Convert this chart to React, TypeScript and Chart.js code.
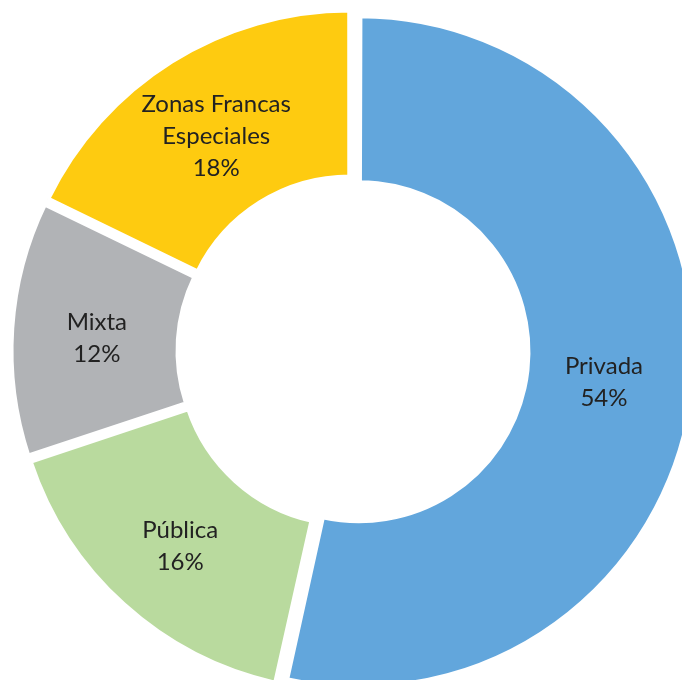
import React, { useEffect, useRef } from "react";
import { Chart, registerables } from "chart.js";

Chart.register(...registerables);

const categories = ["Privada", "Pública", "Mixta", "Zonas Francas\nEspeciales"];
const values = [53.5, 16.4, 12.3, 17.8];
const colors = ["#62A6DC", "#B9DA9E", "#B1B3B6", "#FECB10"];

// Chart.js grows the radii of exploded slices by offset/4 * (1 - sin(circ)); undo it so every slice keeps the same ring
const equalRadiusPlugin = {
  id: "equalRadius",
  afterUpdate(chart: any) {
    const meta = chart.getDatasetMeta(0);
    meta.data.forEach((arc: any) => {
      const off = (arc.options.offset || 0) / 4;
      const circ = arc.circumference;
      const ro = off * (1 - Math.sin(Math.min(Math.PI, circ || 0)));
      arc.outerRadius -= ro;
      arc.innerRadius -= ro;
    });
  },
};

const labelPlugin = {
  id: "sliceLabels",
  afterDatasetsDraw(chart: any) {
    const meta = chart.getDatasetMeta(0);
    const ctx = chart.ctx;
    const total = values.reduce((a, b) => a + b, 0);
    ctx.save();
    ctx.fillStyle = "#222222";
    ctx.font = "24px Lato";
    ctx.textAlign = "center";
    ctx.textBaseline = "middle";
    meta.data.forEach((arc: any, i: number) => {
      const off = (arc.options.offset || 0) / 4;
      const mid = (arc.startAngle + arc.endAngle) / 2;
      const r = (arc.innerRadius + arc.outerRadius) / 2 + off;
      const x = arc.x + Math.cos(mid) * r;
      const y = arc.y + Math.sin(mid) * r + 4;
      const lines = categories[i].split("\n");
      lines.push(Math.round((values[i] / total) * 100) + "%");
      const lh = 32;
      const y0 = y - ((lines.length - 1) * lh) / 2;
      lines.forEach((t, k) => ctx.fillText(t, x, y0 + k * lh));
    });
    ctx.restore();
  },
};

export default function App() {
  const ref = useRef<HTMLCanvasElement>(null);
  useEffect(() => {
    if (!ref.current) return;
    const chart = new Chart(ref.current, {
      type: "doughnut",
      data: {
        labels: categories,
        datasets: [
          {
            data: values,
            backgroundColor: colors,
            borderColor: "#ffffff",
            borderWidth: 5,
            offset: 24,
            hoverOffset: 24,
          },
        ],
      },
      options: {
        responsive: false,
        animation: false,
        radius: 336,
        cutout: "50.3%",
        plugins: { legend: { display: false }, tooltip: { enabled: false } },
        events: [],
      },
      plugins: [equalRadiusPlugin, labelPlugin],
    });
    return () => chart.destroy();
  }, []);
  return (
    <div style={{ position: "fixed", left: 0, top: 0, width: 682, height: 680, overflow: "hidden", background: "#fff" }}>
      <canvas ref={ref} width={706} height={702} style={{ position: "absolute", left: 0, top: 0 }} />
    </div>
  );
}
